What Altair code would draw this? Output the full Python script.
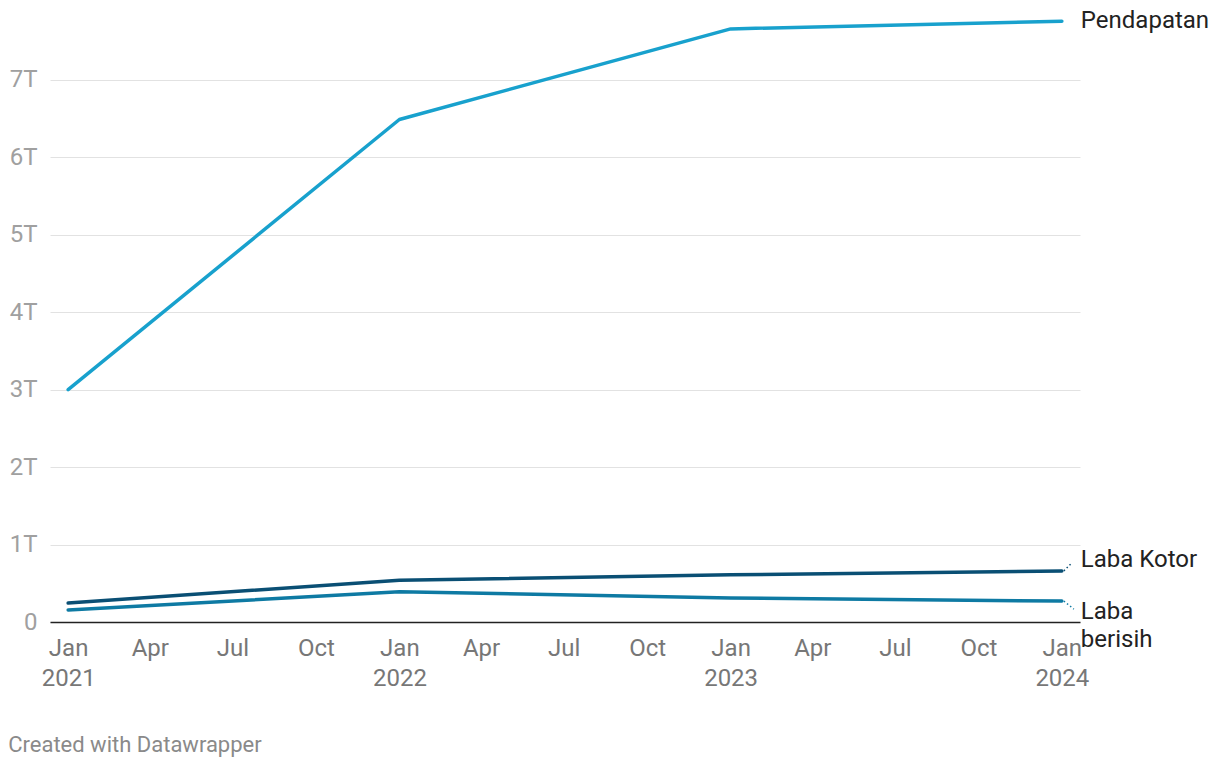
import altair as alt
import pandas as pd

dates = ["2021-01-01", "2022-01-01", "2023-01-01", "2024-01-01"]
series_names = ["Pendapatan", "Laba Kotor", "Laba berisih"]
pendapatan = [3.00e12, 6.49e12, 7.66e12, 7.76e12]
laba_kotor = [0.245e12, 0.54e12, 0.61e12, 0.66e12]
laba_bersih = [0.155e12, 0.39e12, 0.31e12, 0.27e12]
colors = ["#18a1cd", "#0a4f74", "#0e7aa3"]
label_texts = ["Pendapatan", "Laba Kotor", "Laba\nberisih"]

rows = []
for name, vals in zip(series_names, [pendapatan, laba_kotor, laba_bersih]):
    for d, v in zip(dates, vals):
        rows.append({"date": d, "value": v, "series": name})
df = pd.DataFrame(rows)

last = df[df["date"] == dates[-1]].copy()
last["label"] = label_texts

FONT = "Roboto"
FS = 24
color_scale = alt.Scale(domain=series_names, range=colors)

x_ticks = [alt.DateTime(year=y, month=m, date=1, utc=True)
           for y in [2021, 2022, 2023] for m in [1, 4, 7, 10]] + \
          [alt.DateTime(year=2024, month=1, date=1, utc=True)]

x_enc = alt.X(
    "date:T",
    scale=alt.Scale(type="utc",
                    domain=[alt.DateTime(year=2020, month=12, date=12, utc=True),
                            alt.DateTime(year=2024, month=1, date=21, utc=True)]),
    axis=alt.Axis(
        title=None, values=x_ticks, grid=False, ticks=False,
        domain=True, domainColor="#222222", domainWidth=1.5,
        labelExpr="utcmonth(datum.value)==0 ? [utcFormat(datum.value,'%b'), utcFormat(datum.value,'%Y')] : utcFormat(datum.value,'%b')",
        labelFont=FONT, labelFontSize=FS, labelColor="#777777",
        labelPadding=14, labelLineHeight=30, labelAlign="center",
        labelBaseline="top", labelFlush=False, labelOverlap=False,
    ),
)

y_enc = alt.Y(
    "value:Q",
    scale=alt.Scale(domain=[0, 7.904e12], nice=False, zero=True),
    axis=alt.Axis(
        title=None, values=[i * 1e12 for i in range(8)], ticks=False, domain=False,
        grid=True, gridColor="#e2e2e2", gridWidth=1,
        labelExpr="datum.value == 0 ? '0' : format(datum.value/1e12, 'd') + 'T'",
        labelFont=FONT, labelFontSize=FS, labelColor="#a0a0a0",
        labelPadding=13, labelBaseline="middle",
    ),
)

lines = alt.Chart(df).mark_line(strokeWidth=3.5, strokeCap="round", strokeJoin="round").encode(
    x=x_enc, y=y_enc,
    color=alt.Color("series:N", scale=color_scale, legend=None),
    detail="series:N",
)

layers = [lines]
offsets = {"Pendapatan": (0, 0, 0), "Laba Kotor": (-11, 6, -8), "Laba berisih": (11, 8, 8)}
for name in series_names:
    sub = last[last["series"] == name]
    ty, cx, cy = offsets[name]
    layers.append(
        alt.Chart(sub).mark_text(
            align="left", baseline="middle", dx=19, dy=ty,
            font=FONT, fontSize=FS, color="#222222", lineBreak="\n", lineHeight=28,
        ).encode(x="date:T", y="value:Q", text="label:N")
    )
    if name != "Pendapatan":
        layers.append(
            alt.Chart(sub).mark_rule(strokeDash=[1.5, 2.5], strokeWidth=1.5,
                                     x2Offset=cx + 4, y2Offset=cy, xOffset=2).encode(
                x="date:T", y="value:Q", x2="date:T", y2="value:Q",
                color=alt.Color("series:N", scale=color_scale, legend=None),
            )
        )

chart = alt.layer(*layers).properties(
    width=1030, height=612,
    background="white",
    autosize=alt.AutoSizeParams(type="none"),
    padding={"left": 42, "top": 2, "right": 132, "bottom": 136},
    title=alt.TitleParams(
        "Created with Datawrapper", orient="bottom", anchor="start",
        font=FONT, fontSize=22, fontWeight="normal", color="#8a8a8a",
        dx=-1, offset=45,
    ),
).configure_view(stroke=None)

chart.save("out.html", embed_options={"renderer": "svg", "actions": False})
